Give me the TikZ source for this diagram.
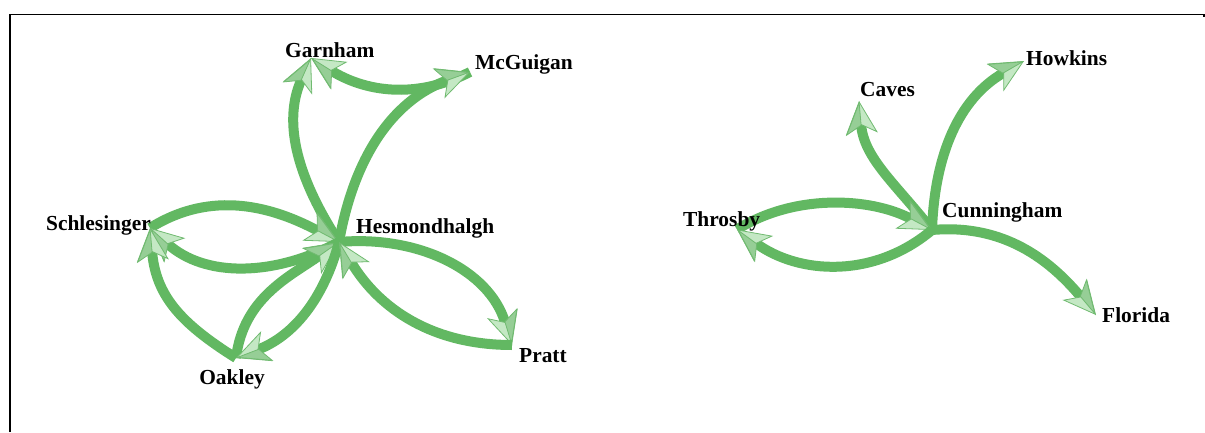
\documentclass[tikz,border=0pt]{standalone}
\usepackage{fontspec}
\setmainfont{Liberation Serif}
\usetikzlibrary{arrows.meta}
\definecolor{edgegreen}{RGB}{98,184,98}
\definecolor{tiplight}{RGB}{196,232,196}
\definecolor{tipdark}{RGB}{150,206,150}
\definecolor{tipedge}{RGB}{112,186,112}
\begin{document}
\begin{tikzpicture}[x=1bp,y=1bp,
  lbl/.style={font=\fontsize{21.4bp}{24bp}\selectfont\bfseries, inner sep=0pt, text=black},
  edge/.style={draw=edgegreen, line width=10bp,
    -{Stealth[length=33bp,width=32bp,inset=9bp,color=tipedge,fill=tiplight,line width=0.8bp]},
    postaction={draw=edgegreen, line width=0.5bp,
      -{Stealth[harpoon,length=33bp,width=32bp,inset=9bp,color=tipedge,fill=tipdark,line width=0.8bp]}}},
  frame/.style={draw=black}]
\useasboundingbox (0,0) rectangle (1205,432);
% frame
\draw[frame, line width=2bp] (10,0) -- (10,417.5);
\draw[frame, line width=1.5bp] (9,417.5) -- (1204,417.5) -- (1204,415);
% vertices
\coordinate (H) at (339,190);
\coordinate (G) at (311,374);
\coordinate (M) at (470,360);
\coordinate (S) at (150,204);
\coordinate (O) at (236,74);
\coordinate (P) at (512,87);
\coordinate (C) at (932,202);
\coordinate (Ca) at (859,331);
\coordinate (Ho) at (1024,371);
\coordinate (F) at (1096,117);
\coordinate (T) at (737,202.5);
% edges, left component
\draw[edge] (H) to[out=123,in=246] (G);
\draw[edge] (M) to[out=207,in=328] (G);
\draw[edge] (H) to[out=80,in=200] (M);
\draw[edge] (S) to[out=32,in=152] (H);
\draw[edge] (H) to[out=208,in=318] (S);
\draw[edge] (O) to[out=148,in=275,looseness=1.1] (S);
\draw[edge] (O) to[out=83,in=215] (H);
\draw[edge] (H) to[out=255,in=21] (O);
\draw[edge] (H) to[out=5,in=107] (P);
\draw[edge] (P) to[out=180,in=301] (H);
% edges, right component
\draw[edge] (C) to[out=128,in=275] (Ca);
\draw[edge] (C) to[out=88,in=210] (Ho);
\draw[edge] (C) to[out=5,in=130] (F);
\draw[edge] (T) to[out=32,in=152,looseness=.9] (C);
\draw[edge] (C) to[out=220,in=324] (T);
% labels
\node[lbl, anchor=base west] (Glbl) at (285,375) {Garnham};
\node[lbl, anchor=base west] (Mlbl) at (475,363) {McGuigan};
\node[lbl, anchor=base west] (Slbl) at (46,202) {Schlesinger};
\node[lbl, anchor=base west] (Hlbl) at (356,199) {Hesmondhalgh};
\node[lbl, anchor=base] (Olbl) at (232,48) {Oakley};
\node[lbl, anchor=base west] (Plbl) at (519,70) {Pratt};
\node[lbl, anchor=base west] (Calbl) at (860,336) {Caves};
\node[lbl, anchor=base west] (Holbl) at (1026,367) {Howkins};
\node[lbl, anchor=base west] (Clbl) at (942,215) {Cunningham};
\node[lbl, anchor=base west] (Tlbl) at (683,206) {Throsby};
\node[lbl, anchor=base west] (Flbl) at (1102,110) {Florida};
\end{tikzpicture}
\end{document}
